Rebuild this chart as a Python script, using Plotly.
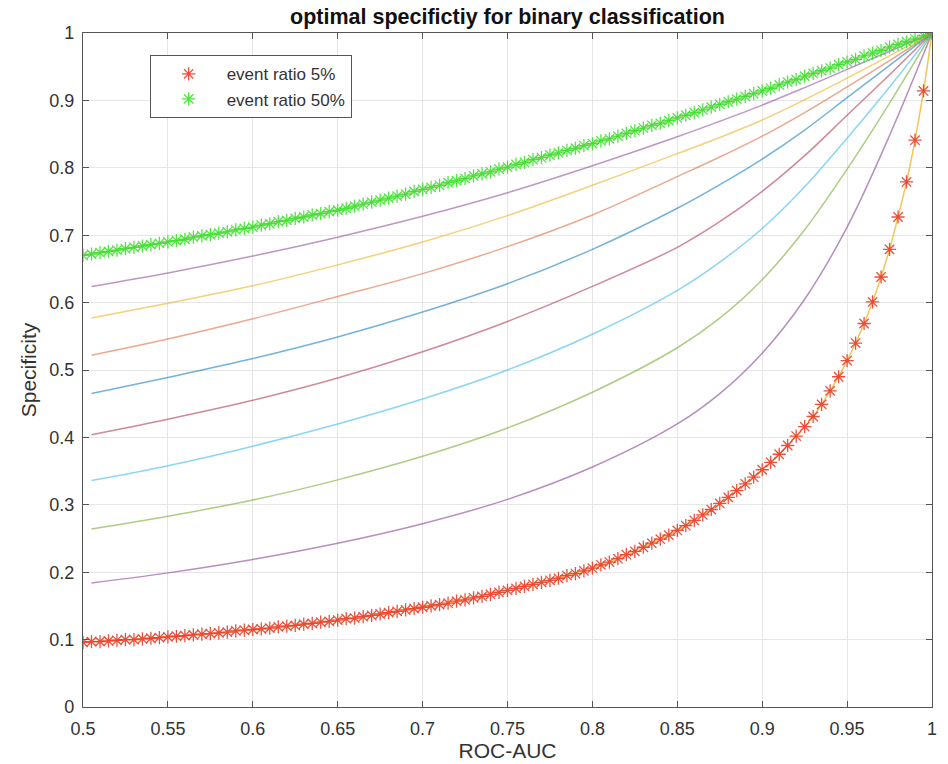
import plotly.graph_objects as go

# ---------------- data ----------------
auc_star = [round(0.5 + 0.005 * i, 3) for i in range(101)]

spec_5pct = [
    0.096, 0.097, 0.097, 0.098, 0.099, 0.100, 0.100, 0.101, 0.102, 0.103,
    0.104, 0.105, 0.106, 0.107, 0.108, 0.109, 0.110, 0.111, 0.113, 0.114,
    0.115, 0.116, 0.117, 0.119, 0.120, 0.121, 0.123, 0.124, 0.126, 0.127,
    0.129, 0.131, 0.132, 0.134, 0.136, 0.138, 0.140, 0.142, 0.144, 0.146,
    0.148, 0.150, 0.152, 0.154, 0.157, 0.159, 0.162, 0.164, 0.167, 0.170,
    0.173, 0.176, 0.179, 0.182, 0.185, 0.188, 0.191, 0.195, 0.198, 0.202,
    0.206, 0.211, 0.215, 0.220, 0.226, 0.231, 0.237, 0.243, 0.249, 0.255,
    0.262, 0.269, 0.277, 0.285, 0.293, 0.302, 0.311, 0.321, 0.331, 0.341,
    0.352, 0.363, 0.375, 0.388, 0.402, 0.416, 0.431, 0.449, 0.469, 0.490,
    0.514, 0.540, 0.569, 0.601, 0.638, 0.679, 0.727, 0.779, 0.841, 0.914,
    1.000,
]

spec_50pct = [
    0.670, 0.672, 0.674, 0.676, 0.678, 0.680, 0.682, 0.684, 0.686, 0.688,
    0.690, 0.692, 0.694, 0.697, 0.699, 0.701, 0.703, 0.705, 0.708, 0.710,
    0.712, 0.715, 0.717, 0.720, 0.722, 0.725, 0.727, 0.730, 0.732, 0.735,
    0.737, 0.740, 0.743, 0.746, 0.749, 0.752, 0.755, 0.758, 0.761, 0.765,
    0.768, 0.771, 0.774, 0.778, 0.781, 0.784, 0.788, 0.791, 0.794, 0.798,
    0.801, 0.805, 0.808, 0.812, 0.815, 0.819, 0.822, 0.826, 0.829, 0.833,
    0.836, 0.840, 0.843, 0.847, 0.851, 0.855, 0.859, 0.863, 0.866, 0.870,
    0.874, 0.878, 0.882, 0.886, 0.890, 0.894, 0.898, 0.902, 0.906, 0.910,
    0.914, 0.918, 0.923, 0.927, 0.931, 0.936, 0.940, 0.944, 0.948, 0.953,
    0.957, 0.961, 0.966, 0.970, 0.974, 0.979, 0.983, 0.987, 0.991, 0.996,
    1.000,
]

auc_line = [0.505, 0.55, 0.6, 0.65, 0.7, 0.75, 0.8, 0.85, 0.875, 0.9, 0.925, 0.95, 0.975, 1.0]

spec_10pct = [0.184, 0.199, 0.219, 0.243, 0.272, 0.308, 0.356, 0.420, 0.465, 0.525, 0.605, 0.712, 0.848, 1.0]
spec_15pct = [0.264, 0.283, 0.307, 0.337, 0.372, 0.414, 0.467, 0.533, 0.577, 0.634, 0.708, 0.798, 0.896, 1.0]
spec_20pct = [0.336, 0.358, 0.387, 0.420, 0.457, 0.500, 0.553, 0.618, 0.660, 0.710, 0.772, 0.844, 0.920, 1.0]
spec_25pct = [0.404, 0.427, 0.455, 0.488, 0.527, 0.572, 0.624, 0.682, 0.720, 0.765, 0.818, 0.878, 0.938, 1.0]
spec_30pct = [0.465, 0.489, 0.517, 0.549, 0.586, 0.628, 0.679, 0.740, 0.775, 0.813, 0.856, 0.904, 0.952, 1.0]
spec_35pct = [0.522, 0.546, 0.576, 0.609, 0.643, 0.683, 0.730, 0.787, 0.816, 0.847, 0.882, 0.920, 0.959, 1.0]
spec_40pct = [0.577, 0.599, 0.625, 0.656, 0.690, 0.729, 0.774, 0.821, 0.845, 0.871, 0.901, 0.933, 0.966, 1.0]
spec_45pct = [0.624, 0.644, 0.669, 0.697, 0.728, 0.763, 0.803, 0.846, 0.869, 0.893, 0.919, 0.946, 0.973, 1.0]

x_ticks = [0.5, 0.55, 0.6, 0.65, 0.7, 0.75, 0.8, 0.85, 0.9, 0.95, 1]
x_tick_text = ["0.5", "0.55", "0.6", "0.65", "0.7", "0.75", "0.8", "0.85", "0.9", "0.95", "1"]
y_ticks = [0, 0.1, 0.2, 0.3, 0.4, 0.5, 0.6, 0.7, 0.8, 0.9, 1]
y_tick_text = ["0", "0.1", "0.2", "0.3", "0.4", "0.5", "0.6", "0.7", "0.8", "0.9", "1"]

# ---------------- figure ----------------
FONT = "Liberation Sans, Arial, Helvetica, sans-serif"

fig = go.Figure()

line_series = [
    (auc_star, spec_5pct, "rgba(237,177,32,0.75)"),
    (auc_line, spec_10pct, "rgba(126,47,142,0.55)"),
    (auc_line, spec_15pct, "rgba(119,172,48,0.6)"),
    (auc_line, spec_20pct, "rgba(77,190,238,0.65)"),
    (auc_line, spec_25pct, "rgba(162,20,47,0.5)"),
    (auc_line, spec_30pct, "rgba(0,114,189,0.55)"),
    (auc_line, spec_35pct, "rgba(217,83,25,0.5)"),
    (auc_line, spec_40pct, "rgba(237,177,32,0.6)"),
    (auc_line, spec_45pct, "rgba(126,47,142,0.5)"),
    (auc_star, spec_50pct, "rgba(119,172,48,0.6)"),
]
for xs, ys, col in line_series:
    fig.add_trace(go.Scatter(
        x=xs, y=ys, mode="lines", line=dict(color=col, width=1.5, shape="spline", smoothing=1.0),
        showlegend=False, hoverinfo="skip",
    ))

RED = "rgba(232,62,40,0.9)"
GREEN = "rgba(50,225,35,0.85)"
fig.add_trace(go.Scatter(
    x=auc_star, y=spec_5pct, mode="markers", name="event ratio 5%",
    marker=dict(symbol="asterisk-open", size=11, color=RED, line=dict(color=RED, width=1.3)),
))
fig.add_trace(go.Scatter(
    x=auc_star, y=spec_50pct, mode="markers", name="event ratio 50%",
    marker=dict(symbol="asterisk-open", size=11, color=GREEN, line=dict(color=GREEN, width=1.3)),
))

axis_common = dict(
    showgrid=True, gridcolor="#e6e6e6", gridwidth=1,
    showline=True, linecolor="#555555", linewidth=1.2, mirror="ticks",
    ticks="inside", ticklen=6, tickcolor="#555555", tickwidth=1,
    zeroline=False,
    tickfont=dict(family=FONT, size=18, color="#333333"),
)

fig.update_layout(
    width=948, height=764,
    margin=dict(l=83, r=11, t=33, b=57),
    paper_bgcolor="white", plot_bgcolor="white",
    title=dict(
        text="<b>optimal specifictiy for binary classification</b>",
        x=0.5, xanchor="center", xref="paper", y=0.978, yanchor="middle",
        font=dict(family=FONT, size=21.5, color="#111111"),
    ),
    xaxis=dict(
        range=[0.5, 1.0], tickvals=x_ticks, ticktext=x_tick_text,
        ticklabelstandoff=5,
        title=dict(text="ROC-AUC", font=dict(family=FONT, size=21, color="#333333"), standoff=0),
        **axis_common,
    ),
    yaxis=dict(
        range=[0, 1.0], tickvals=y_ticks, ticktext=y_tick_text,
        ticklabelstandoff=4,
        title=dict(text="Specificity", font=dict(family=FONT, size=21, color="#333333"), standoff=6),
        **axis_common,
    ),
    legend=dict(
        x=0.0785, y=0.967, xanchor="left", yanchor="top",
        bgcolor="white", bordercolor="#555555", borderwidth=1,
        font=dict(family=FONT, size=17, color="#333333"),
        itemwidth=66, tracegroupgap=0,
    ),
    showlegend=True,
)

fig.write_html("out.html")
